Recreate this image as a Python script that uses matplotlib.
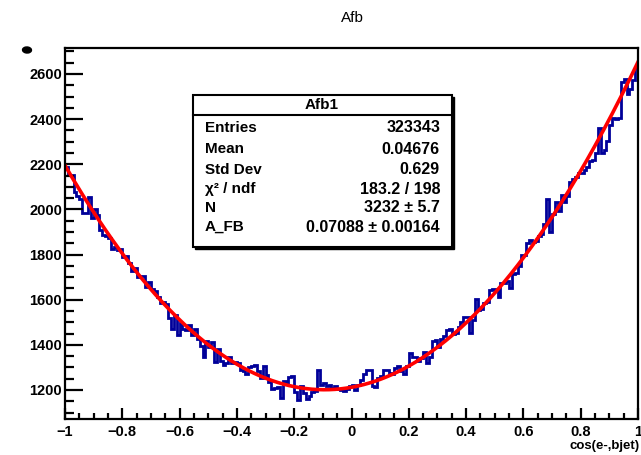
import numpy as np
import matplotlib
matplotlib.use("Agg")
import matplotlib.pyplot as plt
from matplotlib.patches import Rectangle, Ellipse
from matplotlib.ticker import MultipleLocator, FuncFormatter

# ---------------- data ----------------
x_min, x_max, n_bins = -1.0, 1.0, 200
counts = [
    2189, 2152, 2151, 2075, 2058, 2048, 1982, 1982, 2057, 1963,
    2003, 1973, 1909, 1886, 1882, 1874, 1826, 1833, 1820, 1823,
    1791, 1794, 1763, 1726, 1740, 1699, 1704, 1703, 1658, 1678,
    1648, 1639, 1614, 1586, 1592, 1583, 1520, 1472, 1534, 1442,
    1495, 1468, 1466, 1490, 1443, 1472, 1426, 1396, 1345, 1415,
    1391, 1411, 1326, 1382, 1329, 1310, 1321, 1344, 1321, 1323,
    1321, 1289, 1286, 1270, 1304, 1307, 1311, 1286, 1255, 1305,
    1265, 1235, 1206, 1207, 1212, 1164, 1240, 1232, 1259, 1261,
    1193, 1156, 1219, 1187, 1161, 1174, 1193, 1197, 1287, 1221,
    1231, 1217, 1222, 1207, 1218, 1204, 1200, 1197, 1204, 1216,
    1223, 1201, 1223, 1246, 1270, 1288, 1287, 1216, 1215, 1255,
    1264, 1289, 1290, 1275, 1271, 1297, 1308, 1284, 1271, 1308,
    1365, 1347, 1345, 1328, 1341, 1369, 1318, 1347, 1416, 1420,
    1390, 1424, 1440, 1465, 1470, 1446, 1452, 1478, 1500, 1522,
    1524, 1451, 1508, 1601, 1554, 1557, 1586, 1589, 1643, 1647,
    1642, 1611, 1676, 1672, 1682, 1652, 1713, 1719, 1751, 1797,
    1799, 1851, 1864, 1856, 1859, 1882, 1890, 1934, 2048, 1902,
    1981, 2035, 1995, 2065, 2035, 2061, 2122, 2133, 2144, 2160,
    2162, 2174, 2186, 2213, 2221, 2249, 2362, 2251, 2264, 2303,
    2372, 2406, 2401, 2406, 2566, 2576, 2512, 2533, 2574, 2630,
]

hist_name = "Afb1"
title = "Afb"
x_title = "cos(e-,bjet)"
stat_labels = ["Entries", "Mean", "Std Dev", "\u03c7\u00b2 / ndf", "N", "A_FB"]
stat_values = ["323343", "0.04676", "0.629", "183.2 / 198",
               "3232 \u00b1 5.7", "0.07088 \u00b1 0.00164"]
fit_N = 3232.0
fit_AFB = 0.07088

# ---------------- figure ----------------
W, H = 641, 455
plt.rcParams["font.family"] = ["Liberation Sans", "DejaVu Sans"]
fig = plt.figure(figsize=(W / 100, H / 100), dpi=100)

def fx(px):
    return px / W

def fy(py):
    return 1 - py / H

ax_l, ax_r, ax_t, ax_b = 65, 638, 48, 419
ax = fig.add_axes([fx(ax_l), fy(ax_b), fx(ax_r) - fx(ax_l), fy(ax_t) - fy(ax_b)])

edges = np.linspace(x_min, x_max, n_bins + 1)
ax.stairs(counts, edges, baseline=None, color="#000099", linewidth=2.0)

xf = np.linspace(x_min, x_max, 400)
yf = fit_N * (3.0 / 8.0 * (1 + xf ** 2) + fit_AFB * xf)
ax.plot(xf, yf, color="#ff0000", linewidth=2.6)

ax.set_xlim(-1, 1)
ax.set_ylim(1071.5, 2715)

ax.xaxis.set_major_locator(MultipleLocator(0.2))
ax.xaxis.set_minor_locator(MultipleLocator(0.05))
ax.yaxis.set_major_locator(MultipleLocator(200))
ax.yaxis.set_minor_locator(MultipleLocator(50))

ax.tick_params(axis="x", which="major", direction="in", length=8, width=1.6,
               pad=4, labelsize=10.5)
ax.tick_params(axis="x", which="minor", direction="in", length=4, width=1.6)
ax.tick_params(axis="y", which="major", direction="in", length=13, width=1.6,
               pad=2, labelsize=10.5)
ax.tick_params(axis="y", which="minor", direction="in", length=6.5, width=1.6)

def xfmt(v, pos):
    if abs(v) < 1e-9:
        s = "0"
    elif abs(abs(v) - 1) < 1e-9:
        s = "%d" % round(v)
    else:
        s = "%.1f" % v
    return s.replace("-", "\u2212")

ax.xaxis.set_major_formatter(FuncFormatter(xfmt))
for lab in ax.get_xticklabels() + ax.get_yticklabels():
    lab.set_fontweight("bold")

for sp in ax.spines.values():
    sp.set_linewidth(1.6)

# title and axis title
fig.text(fx(352), fy(18), title, ha="center", va="center", fontsize=11)
fig.text(fx(640), fy(446), x_title, ha="right", va="center", fontsize=9.5,
         fontweight="bold")
fig.patches.append(Ellipse((fx(27), fy(50)), 9 / W, 6 / H, angle=-20,
                           transform=fig.transFigure, color="black"))

# stats box
bl, br, bt, bb = 193, 452, 95, 247
fig.patches.append(Rectangle((fx(bl + 2), fy(bb + 2)), fx(br) - fx(bl), fy(bt) - fy(bb),
                             transform=fig.transFigure, facecolor="black",
                             edgecolor="black", zorder=5))
fig.patches.append(Rectangle((fx(bl), fy(bb)), fx(br) - fx(bl), fy(bt) - fy(bb),
                             transform=fig.transFigure, facecolor="white",
                             edgecolor="black", linewidth=1.5, zorder=6))
fig.add_artist(plt.Line2D([fx(bl), fx(br)], [fy(115), fy(115)],
                          transform=fig.transFigure, color="black",
                          linewidth=1.5, zorder=7))
fig.text(fx(322), fy(105), hist_name, ha="center", va="center", fontsize=11,
         fontweight="bold", zorder=8)
row_y = [128, 149, 170, 189, 208, 227]
for lab, val, yy in zip(stat_labels, stat_values, row_y):
    fig.text(fx(205), fy(yy), lab, ha="left", va="center", fontsize=11,
             fontweight="bold", zorder=8)
    fig.text(fx(440), fy(yy), val, ha="right", va="center", fontsize=11.5,
             fontweight="bold", zorder=8)

fig.savefig("out.png", dpi=100)
